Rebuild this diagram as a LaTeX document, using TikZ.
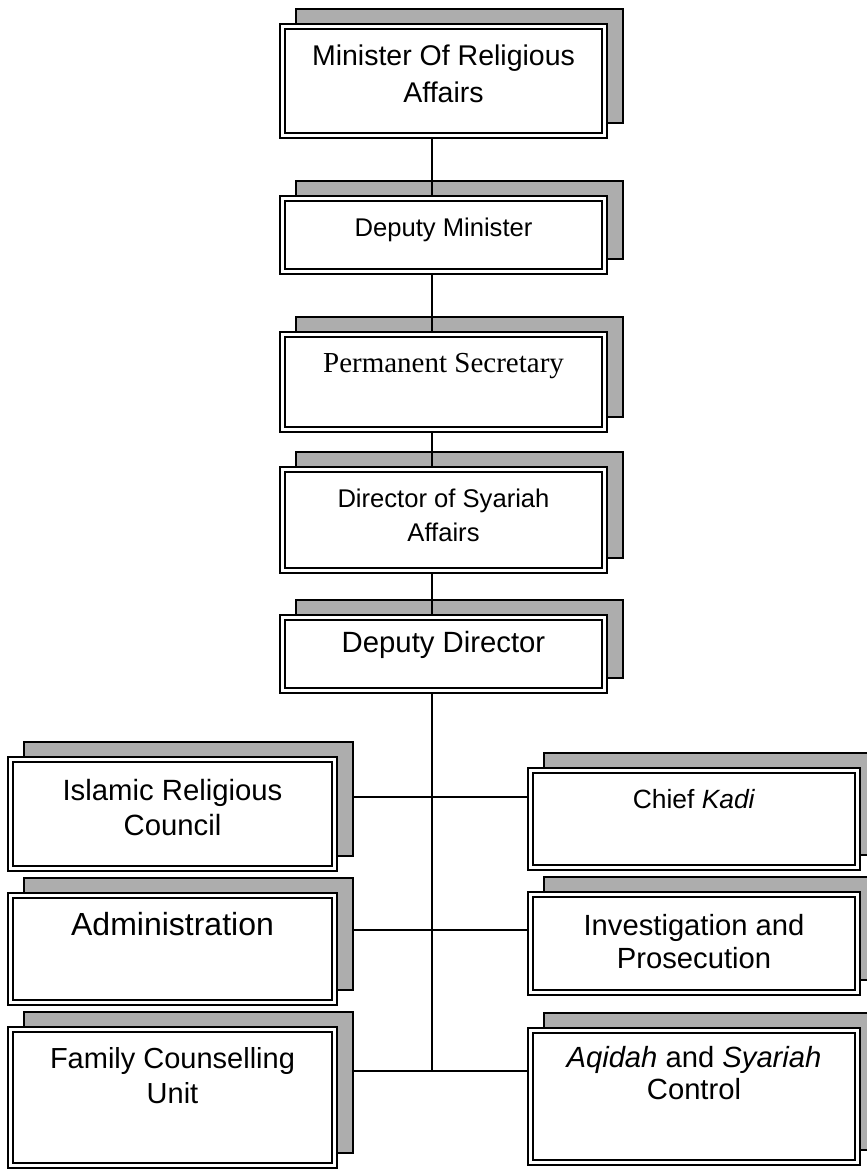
\documentclass[tikz,border=0pt]{standalone}
\usepackage{fontspec}
\setmainfont{Liberation Sans}
\newfontfamily\timesf{Liberation Serif}
\usetikzlibrary{backgrounds}
\begin{document}
\begin{tikzpicture}[x=1pt,y=-1pt,
  obox/.style={draw, line width=2pt, fill=white, rectangle, inner sep=0pt, outer sep=0pt, anchor=north west},
  ibox/.style={draw, line width=1.1pt},
  shade/.style={draw=black, line width=1.6pt, fill=black!32},
  conn/.style={draw=black, line width=1.5pt},
  txt/.style={anchor=base, inner sep=0pt}]
\clip (0,0) rectangle (867,1170);
% boxes
\node[obox, minimum width=327, minimum height=114] (min)  at (280,24)  {};
\node[obox, minimum width=327, minimum height=78]  (dmin) at (280,196) {};
\node[obox, minimum width=327, minimum height=100] (psec) at (280,332) {};
\node[obox, minimum width=327, minimum height=106] (dir)  at (280,467) {};
\node[obox, minimum width=327, minimum height=78]  (ddir) at (280,615) {};
\node[obox, minimum width=329, minimum height=114] (isl)  at (8,757)   {};
\node[obox, minimum width=329, minimum height=112] (adm)  at (8,893)   {};
\node[obox, minimum width=329, minimum height=141] (fam)  at (8,1027)  {};
\node[obox, minimum width=332, minimum height=102] (kadi) at (528,768) {};
\node[obox, minimum width=332, minimum height=103] (inv)  at (528,892) {};
\node[obox, minimum width=332, minimum height=137] (aqi)  at (528,1028) {};
% inner borders
\foreach \n in {min,dmin,psec,dir,ddir,isl,adm,fam,kadi,inv,aqi}
  \draw[ibox] ([shift={(5,5)}]\n.north west) rectangle ([shift={(-5,-5)}]\n.south east);
% junctions
\coordinate (tx) at (432,0);
\coordinate (j1) at (432,797);
\coordinate (j2) at (432,930);
\coordinate (j3) at (432,1071);
\begin{scope}[on background layer]
  \fill[white] (0,0) rectangle (867,1170);
  \foreach \n in {min,dmin,psec,dir,ddir,isl,adm,fam,kadi,inv,aqi}
    \draw[shade] ([shift={(16,-15)}]\n.north west) rectangle ([shift={(16,-15)}]\n.south east);
  \draw[conn] (min.south -| tx) -- (dmin.north -| tx);
  \draw[conn] (dmin.south -| tx) -- (psec.north -| tx);
  \draw[conn] (psec.south -| tx) -- (dir.north -| tx);
  \draw[conn] (dir.south -| tx) -- (ddir.north -| tx);
  \draw[conn] (ddir.south -| tx) -- (j3);
  \draw[conn] ([xshift=17]isl.east |- j1) -- (j1) -- (kadi.west |- j1);
  \draw[conn] ([xshift=17]adm.east |- j2) -- (j2) -- (inv.west |- j2);
  \draw[conn] ([xshift=17]fam.east |- j3) -- (j3) -- (aqi.west |- j3);
\end{scope}
% texts
\node[txt, font=\fontsize{28.5}{34}\selectfont] (t1a) at (443.5,65)  {Minister Of Religious};
\node[txt, font=\fontsize{28.5}{34}\selectfont] (t1b) at (443.5,102) {Affairs};
\node[txt, font=\fontsize{25.6}{30}\selectfont] (t2)  at (443.5,236) {Deputy Minister};
\node[txt, font=\timesf\fontsize{29}{34}\selectfont] (t3) at (443.5,372) {Permanent Secretary};
\node[txt, font=\fontsize{25.6}{30}\selectfont] (t4a) at (443.5,507) {Director of Syariah};
\node[txt, font=\fontsize{25.6}{30}\selectfont] (t4b) at (443.5,541) {Affairs};
\node[txt, font=\fontsize{29.3}{34}\selectfont] (t5)  at (443.5,652) {Deputy Director};
\node[txt, font=\fontsize{29.3}{34}\selectfont] (t6a) at (172.5,800) {Islamic Religious};
\node[txt, font=\fontsize{29.3}{34}\selectfont] (t6b) at (172.5,835) {Council};
\node[txt, font=\fontsize{32}{36}\selectfont]   (t7)  at (172.5,935) {Administration};
\node[txt, font=\fontsize{29}{34}\selectfont]   (t8a) at (172.5,1068) {Family Counselling};
\node[txt, font=\fontsize{29}{34}\selectfont]   (t8b) at (172.5,1103) {Unit};
\node[txt, font=\fontsize{26.4}{31}\selectfont] (t9)  at (694,808) {Chief \textit{Kadi}};
\node[txt, font=\fontsize{29.2}{34}\selectfont] (t10a) at (694,935) {Investigation and};
\node[txt, font=\fontsize{29.2}{34}\selectfont] (t10b) at (694,968) {Prosecution};
\node[txt, font=\fontsize{29.2}{34}\selectfont] (t11a) at (694,1067) {\textit{Aqidah} and \textit{Syariah}};
\node[txt, font=\fontsize{29.2}{34}\selectfont] (t11b) at (694,1099) {Control};
\end{tikzpicture}
\end{document}
